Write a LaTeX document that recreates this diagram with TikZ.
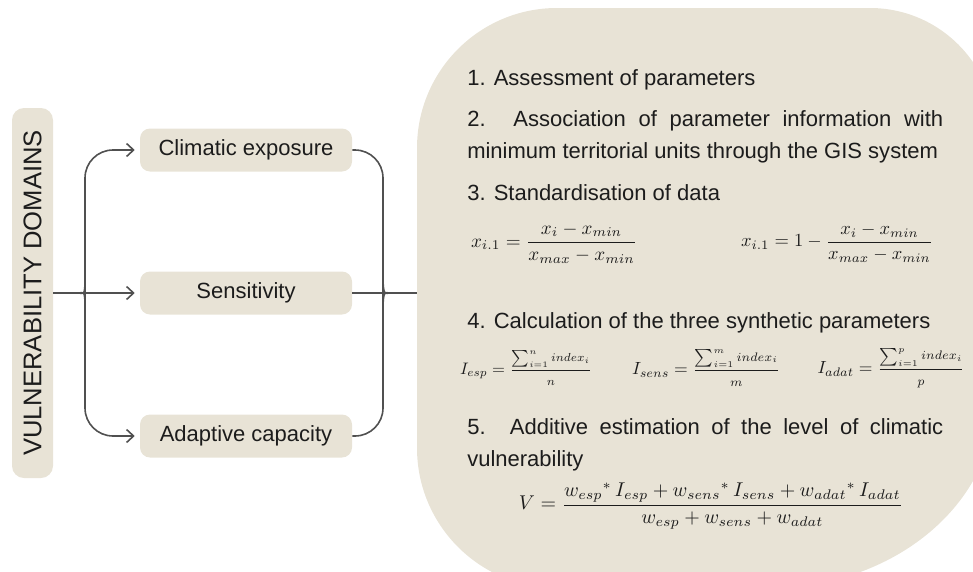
\documentclass[tikz,border=0pt]{standalone}
\usepackage{fontspec}
\setmainfont{Liberation Sans}
\usepackage{graphicx}
\usetikzlibrary{arrows.meta}
\newlength\px \setlength\px{0.75pt}
\definecolor{beige}{RGB}{232,227,214}
\definecolor{linec}{RGB}{80,80,80}
\definecolor{txt}{RGB}{28,28,28}
\begin{document}
\begin{tikzpicture}[x=0.75pt,y=-0.75pt,
  dombox/.style={fill=beige, rounded corners=7.5pt, minimum width=159pt, minimum height=32.25pt, inner sep=0pt, font=\fontsize{16.5}{20}\selectfont, text=txt},
  conn/.style={draw=linec, line width=1.2pt},
  arr/.style={-{Straight Barb[length=5.25pt,width=9.75pt]}, shorten >=3.75pt},
  item/.style={anchor=base west, inner sep=0pt, font=\fontsize{16.5}{24}\selectfont, text=txt},
  fm/.style={inner sep=0pt, text=txt}]
\useasboundingbox (0,0) rectangle (973,571);
\begin{scope}
\clip (0,0) rectangle (973,571);
\fill[beige] (417,148) .. controls (417,70.7) and (479.7,8) .. (557,8) -- (870,8) .. controls (939,8) and (995,64) .. (995,133) -- (995,400) .. controls (995,503.8) and (893.8,588) .. (769,588) -- (557,588) .. controls (479.7,588) and (417,525.3) .. (417,448) -- cycle;
\end{scope}
% left part
\node[fill=beige, rounded corners=9pt, rotate=90, minimum width=277.5pt, minimum height=30.75pt, inner sep=0pt, font=\fontsize{19.2}{20}\selectfont, text=txt] (vd) at (32.5,293) {VULNERABILITY DOMAINS};
\node[dombox] (ce) at (246,150) {Climatic exposure};
\node[dombox] (se) at (246,293) {Sensitivity};
\node[dombox] (ad) at (246,436) {Adaptive capacity};
\coordinate (lc) at (78,293);
\coordinate (rc) at (390,293);
\coordinate (bigL) at (417,293);
\draw[conn] (vd.south) -- (lc);
\draw[conn, arr, rounded corners=21pt] (lc) .. controls (84,293) and (85,289) .. (85,281) |- (ce.west);
\draw[conn, arr] (lc) -- (se.west);
\draw[conn, arr, rounded corners=21pt] (lc) .. controls (84,293) and (85,297) .. (85,305) |- (ad.west);
\draw[conn, rounded corners=21pt] (ce.east) -| (383,283) .. controls (383,289) and (385,293) .. (rc);
\draw[conn, rounded corners=21pt] (ad.east) -| (383,303) .. controls (383,297) and (385,293) .. (rc);
\draw[conn] (se.east) -- (bigL);
% right text
\node[item] (t1) at (467,85) {1. Assessment of parameters};
\node[item] (t2a) at (467,126) {\makebox[476\px][s]{2. Association of parameter information with}};
\node[item] (t2b) at (467,158) {minimum territorial units through the GIS system};
\node[item] (t3) at (467,200) {3. Standardisation of data};
\node[item] (t4) at (467,328) {4. Calculation of the three synthetic parameters};
\node[item] (t5a) at (467,434) {\makebox[476\px][s]{5. Additive estimation of the level of climatic}};
\node[item] (t5b) at (467,466) {vulnerability};
% formulas
\node[fm] (f1) at (554,243) {\resizebox{166\px}{!}{$\displaystyle x_{i.1} = \frac{x_i - x_{min}}{x_{max} - x_{min}}$}};
\node[fm] (f2) at (837,243) {\resizebox{192\px}{!}{$\displaystyle x_{i.1} = 1 - \frac{x_i - x_{min}}{x_{max} - x_{min}}$}};
\node[fm] (g1) at (526,368) {\resizebox{132\px}{!}{$\displaystyle I_{esp} = \frac{\scriptstyle\sum\nolimits_{i=1}^{n} index_i}{\scriptstyle n}$}};
\node[fm] (g2) at (706,368) {\resizebox{148\px}{!}{$\displaystyle I_{sens} = \frac{\scriptstyle\sum\nolimits_{i=1}^{m} index_i}{\scriptstyle m}$}};
\node[fm] (g3) at (891,368) {\resizebox{147\px}{!}{$\displaystyle I_{adat} = \frac{\scriptstyle\sum\nolimits_{i=1}^{p} index_i}{\scriptstyle p}$}};
\node[fm] (v) at (711,506) {\resizebox{384\px}{!}{$\displaystyle V = \frac{w_{esp}{}^{*}\, I_{esp} + w_{sens}{}^{*}\, I_{sens} + w_{adat}{}^{*}\, I_{adat}}{w_{esp} + w_{sens} + w_{adat}}$}};
\end{tikzpicture}
\end{document}
